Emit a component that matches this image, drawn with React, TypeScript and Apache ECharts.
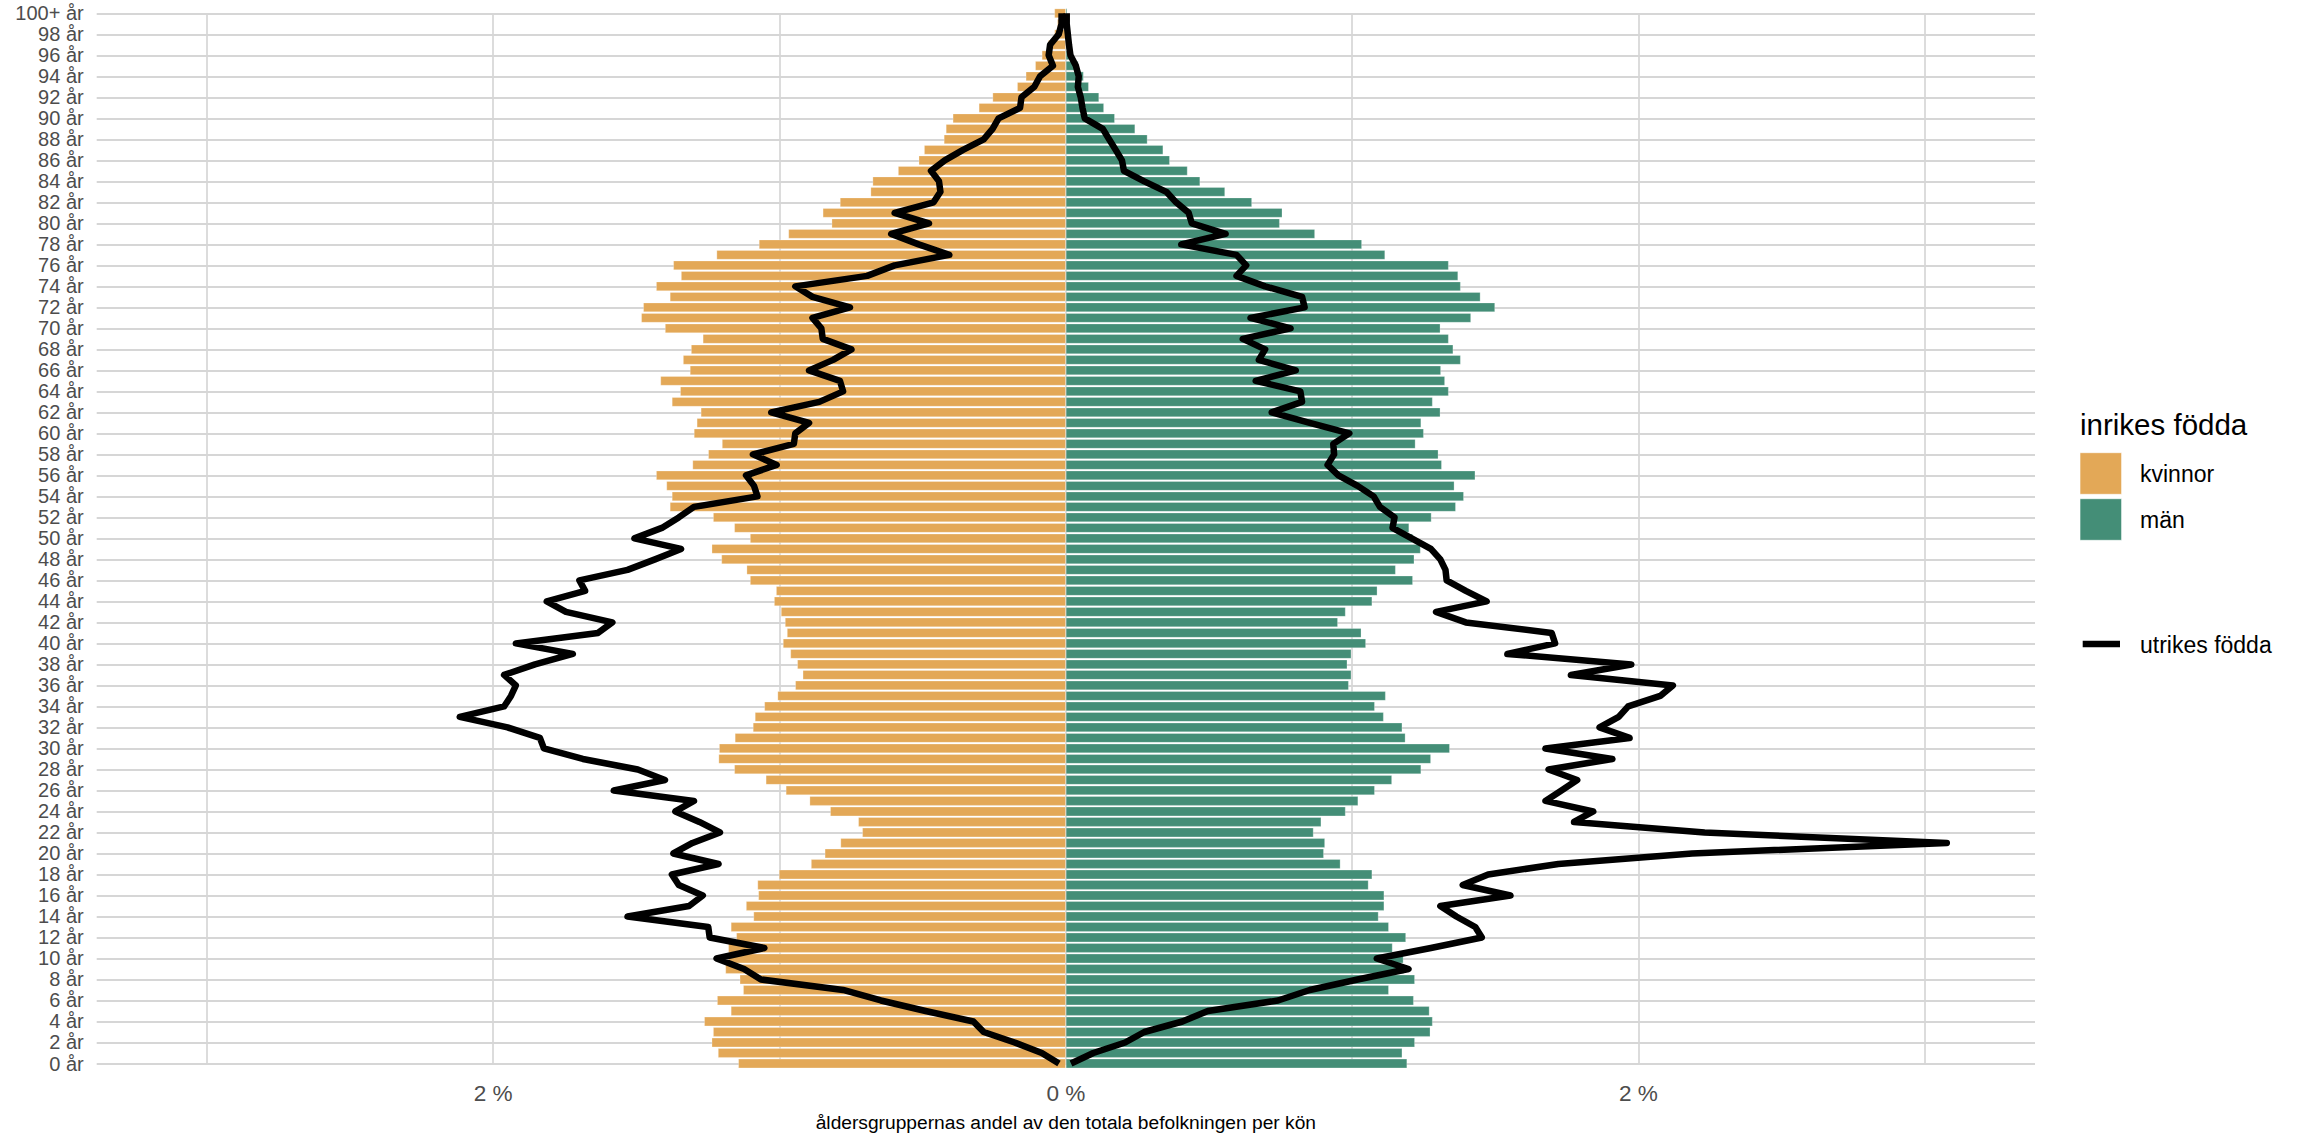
import React, { useEffect, useRef } from "react";
import * as echarts from "echarts";

// Age categories 0 .. 100+
const ages: string[] = Array.from({ length: 101 }, (_, i) => (i === 100 ? "100+ år" : `${i} år`));

// Share (%) of each age group in the total population per sex — native born (inrikes födda)
const womenNative: number[] = [
  1.144, 1.215, 1.237, 1.232, 1.263, 1.17, 1.218, 1.127, 1.139, 1.189,
  1.179, 1.179, 1.151, 1.17, 1.091, 1.117, 1.074, 1.077, 1.002, 0.89,
  0.842, 0.787, 0.711, 0.725, 0.823, 0.895, 0.978, 1.048, 1.158, 1.213,
  1.211, 1.156, 1.093, 1.086, 1.053, 1.007, 0.945, 0.919, 0.938, 0.962,
  0.988, 0.974, 0.981, 0.995, 1.019, 1.012, 1.103, 1.115, 1.203, 1.237,
  1.103, 1.158, 1.232, 1.383, 1.376, 1.395, 1.431, 1.304, 1.249, 1.201,
  1.299, 1.289, 1.275, 1.376, 1.347, 1.416, 1.313, 1.337, 1.309, 1.268,
  1.4, 1.483, 1.476, 1.383, 1.431, 1.344, 1.371, 1.22, 1.072, 0.969,
  0.818, 0.849, 0.789, 0.682, 0.675, 0.586, 0.514, 0.495, 0.426, 0.419,
  0.395, 0.304, 0.256, 0.17, 0.14, 0.107, 0.084, 0.062, 0.04, 0.03,
  0.04,
];

const menNative: number[] = [
  1.192, 1.175, 1.219, 1.273, 1.281, 1.27, 1.215, 1.128, 1.219, 1.181,
  1.179, 1.141, 1.188, 1.128, 1.092, 1.112, 1.112, 1.057, 1.07, 0.959,
  0.901, 0.905, 0.865, 0.892, 0.977, 1.021, 1.079, 1.139, 1.241, 1.275,
  1.341, 1.186, 1.175, 1.11, 1.079, 1.117, 0.988, 0.997, 0.983, 0.997,
  1.048, 1.032, 0.95, 0.977, 1.07, 1.088, 1.212, 1.152, 1.217, 1.239,
  1.212, 1.199, 1.277, 1.362, 1.39, 1.357, 1.43, 1.313, 1.301, 1.221,
  1.25, 1.241, 1.308, 1.281, 1.337, 1.324, 1.31, 1.379, 1.353, 1.337,
  1.308, 1.415, 1.499, 1.448, 1.379, 1.37, 1.337, 1.115, 1.034, 0.87,
  0.747, 0.756, 0.65, 0.556, 0.469, 0.425, 0.363, 0.34, 0.285, 0.242,
  0.171, 0.133, 0.116, 0.08, 0.062, 0.044, 0.024, 0.018, 0.011, 0.007,
  0.005,
];

// Foreign born (utrikes födda)
const womenForeign: number[] = [
  0.024, 0.084, 0.179, 0.287, 0.323, 0.49, 0.646, 0.778, 1.065, 1.124,
  1.22, 1.053, 1.244, 1.249, 1.531, 1.316, 1.268, 1.352, 1.376, 1.213,
  1.371, 1.304, 1.208, 1.28, 1.364, 1.299, 1.579, 1.4, 1.495, 1.687,
  1.823, 1.837, 1.95, 2.117, 1.962, 1.938, 1.921, 1.962, 1.854, 1.722,
  1.921, 1.634, 1.584, 1.746, 1.813, 1.679, 1.699, 1.531, 1.435, 1.344,
  1.507, 1.411, 1.352, 1.299, 1.077, 1.089, 1.117, 1.01, 1.093, 0.95,
  0.945, 0.897, 1.029, 0.861, 0.778, 0.789, 0.897, 0.813, 0.749, 0.849,
  0.854, 0.885, 0.754, 0.885, 0.945, 0.694, 0.598, 0.407, 0.514, 0.61,
  0.478, 0.598, 0.462, 0.438, 0.443, 0.471, 0.423, 0.359, 0.287, 0.256,
  0.235, 0.16, 0.155, 0.11, 0.09, 0.045, 0.06, 0.055, 0.025, 0.015,
  0.015,
];

const menForeign: number[] = [
  0.018, 0.096, 0.207, 0.274, 0.407, 0.496, 0.741, 0.852, 1.019, 1.197,
  1.086, 1.275, 1.453, 1.43, 1.364, 1.308, 1.553, 1.386, 1.475, 1.72,
  2.187, 3.077, 2.231, 1.775, 1.842, 1.675, 1.731, 1.786, 1.686, 1.909,
  1.675, 1.969, 1.864, 1.931, 1.964, 2.076, 2.12, 1.764, 1.975, 1.542,
  1.709, 1.697, 1.397, 1.293, 1.47, 1.397, 1.33, 1.326, 1.308, 1.275,
  1.208, 1.141, 1.148, 1.097, 1.075, 1.019, 0.952, 0.914, 0.937, 0.934,
  0.99, 0.852, 0.719, 0.825, 0.819, 0.663, 0.803, 0.674, 0.696, 0.618,
  0.785, 0.645, 0.834, 0.825, 0.696, 0.596, 0.63, 0.596, 0.403, 0.558,
  0.44, 0.429, 0.385, 0.351, 0.274, 0.203, 0.196, 0.174, 0.151, 0.129,
  0.066, 0.058, 0.052, 0.042, 0.045, 0.035, 0.016, 0.011, 0.007, 0.003,
  0.003,
];

const xGridValues: number[] = [-3, -2, -1, 0, 1, 2, 3];
const xLabelValues: number[] = [-2, 0, 2];

const ORANGE = "#E3A857";
const GREEN = "#448E77";
const FONT = "'Liberation Sans', Arial, Helvetica, sans-serif";

export default function App() {
  const ref = useRef<HTMLDivElement>(null);

  useEffect(() => {
    document.body.style.margin = "0";
    if (!ref.current) return;
    const chart = echarts.init(ref.current, undefined, { renderer: "svg" });

    const barBase = {
      type: "bar" as const,
      barGap: "-100%",
      barCategoryGap: "10%",
      clip: false,
      silent: true,
    };

    chart.setOption({
      animation: false,
      backgroundColor: "#ffffff",
      textStyle: { fontFamily: FONT },
      grid: { left: 96.7, right: 268, top: 13.3, bottom: 73.5, containLabel: false },
      xAxis: {
        type: "value",
        min: -3.385,
        max: 3.385,
        axisLine: { show: false },
        axisTick: { show: false, customValues: xGridValues },
        axisLabel: {
          customValues: xLabelValues,
          formatter: (v: number) => `${Math.abs(Math.round(v))} %`,
          fontSize: 22.6,
          color: "#4D4D4D",
          margin: 18,
          fontFamily: FONT,
        },
        splitLine: { show: true, lineStyle: { color: "#D6D6D6", width: 1.7 } },
        name: "åldersgruppernas andel av den totala befolkningen per kön",
        nameLocation: "middle",
        nameGap: 49,
        nameTextStyle: { fontSize: 19.2, color: "#000000", fontFamily: FONT },
      },
      yAxis: {
        type: "category",
        data: ages,
        boundaryGap: false,
        axisLine: { show: false },
        axisTick: { show: false },
        axisLabel: { interval: 1, fontSize: 20, color: "#4D4D4D", margin: 13, fontFamily: FONT },
        splitLine: { show: true, interval: 1, lineStyle: { color: "#D6D6D6", width: 1.9 } },
      },
      series: [
        {
          ...barBase,
          name: "kvinnor",
          data: womenNative.map((v) => -v),
          itemStyle: { color: ORANGE, borderColor: "rgba(255,255,255,0.45)", borderWidth: 0.6 },
        },
        {
          ...barBase,
          name: "män",
          data: menNative,
          itemStyle: { color: GREEN, borderColor: "rgba(255,255,255,0.45)", borderWidth: 0.6 },
        },
        {
          type: "line",
          name: "utrikes födda",
          data: womenForeign.map((v) => -v),
          symbol: "none",
          clip: false,
          silent: true,
          lineStyle: { color: "#000000", width: 6.5, join: "round", cap: "butt" },
          z: 5,
        },
        {
          type: "line",
          name: "utrikes födda",
          data: menForeign,
          symbol: "none",
          clip: false,
          silent: true,
          lineStyle: { color: "#000000", width: 6.5, join: "round", cap: "butt" },
          z: 5,
        },
      ],
      graphic: [
        {
          type: "text",
          x: 2080,
          y: 424,
          style: { text: "inrikes födda", fontSize: 29.5, fontFamily: FONT, fill: "#000", verticalAlign: "middle", align: "left" },
        },
        {
          type: "rect",
          shape: { x: 2080, y: 452.7, width: 41.6, height: 41.6 },
          style: { fill: ORANGE, stroke: "rgba(255,255,255,0.6)", lineWidth: 1 },
        },
        {
          type: "rect",
          shape: { x: 2080, y: 498.7, width: 41.6, height: 41.6 },
          style: { fill: GREEN, stroke: "rgba(255,255,255,0.6)", lineWidth: 1 },
        },
        {
          type: "text",
          x: 2140,
          y: 474,
          style: { text: "kvinnor", fontSize: 23, fontFamily: FONT, fill: "#000", verticalAlign: "middle", align: "left" },
        },
        {
          type: "text",
          x: 2140,
          y: 520,
          style: { text: "män", fontSize: 23, fontFamily: FONT, fill: "#000", verticalAlign: "middle", align: "left" },
        },
        {
          type: "line",
          shape: { x1: 2082.7, y1: 644, x2: 2120, y2: 644 },
          style: { stroke: "#000", lineWidth: 6.5 },
        },
        {
          type: "text",
          x: 2140,
          y: 645,
          style: { text: "utrikes födda", fontSize: 23, fontFamily: FONT, fill: "#000", verticalAlign: "middle", align: "left" },
        },
      ],
    });

    return () => chart.dispose();
  }, []);

  return (
    <div
      ref={ref}
      style={{ position: "absolute", left: 0, top: 0, width: 2303, height: 1137, background: "#fff" }}
    />
  );
}
